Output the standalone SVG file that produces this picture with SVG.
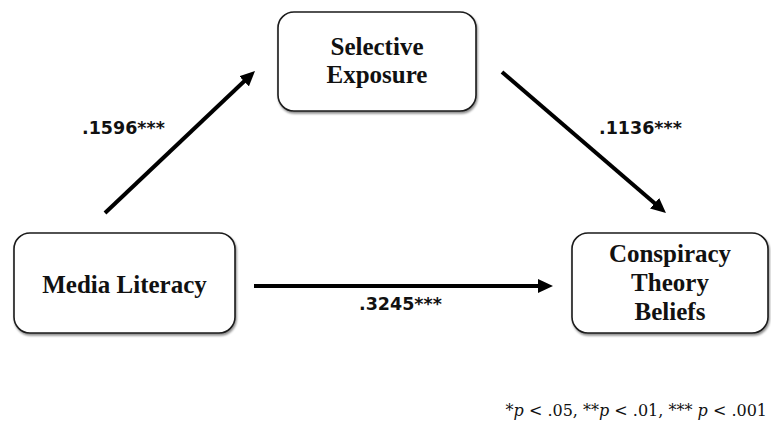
<svg xmlns="http://www.w3.org/2000/svg" width="771" height="426" viewBox="0 0 771 426">
<style>
.box{fill:#fff;stroke:#1a1a1a;stroke-width:1.6;filter:url(#sh)}
.lbl{font-family:"Liberation Serif","Times New Roman",serif;font-weight:bold;font-size:25px;fill:#111;text-anchor:middle}
.coef{font-family:"DejaVu Sans",Arial,sans-serif;font-weight:bold;font-size:17.5px;fill:#111}
.conn{stroke:#000;stroke-width:4;fill:none;marker-end:url(#ah)}
.note{font-family:"DejaVu Serif","Liberation Serif",serif;font-size:16px;fill:#111;text-anchor:end}
</style>
<defs>
<filter id="sh" x="-10%" y="-10%" width="120%" height="125%">
<feDropShadow dx="1" dy="2" stdDeviation="1.2" flood-color="#000" flood-opacity="0.45"/>
</filter>
<marker id="ah" markerUnits="userSpaceOnUse" markerWidth="16" markerHeight="14" refX="7" refY="7" orient="auto">
<path d="M0,0 L15,7 L0,14 Z" fill="#000"/>
</marker>
</defs>
<rect width="771" height="426" fill="#fff"/>
<g id="connectors">
<line class="conn" x1="105" y1="213" x2="249.2" y2="76.5"/>
<line class="conn" x1="502" y1="72" x2="659.9" y2="207.8"/>
<line class="conn" x1="254" y1="286" x2="545" y2="286"/>
<text class="coef" x="82" y="134">.1596***</text>
<text class="coef" x="599" y="134">.1136***</text>
<text class="coef" x="359" y="310">.3245***</text>
</g>
<g id="selective-exposure">
<rect class="box" x="278" y="12" width="198" height="99" rx="16"/>
<text class="lbl" x="377" y="55">Selective</text>
<text class="lbl" x="377" y="83">Exposure</text>
</g>
<g id="media-literacy">
<rect class="box" x="14" y="233" width="221" height="100" rx="16"/>
<text class="lbl" x="124.5" y="293">Media Literacy</text>
</g>
<g id="conspiracy-theory-beliefs">
<rect class="box" x="572" y="233" width="196" height="100" rx="16"/>
<text class="lbl" x="670" y="262">Conspiracy</text>
<text class="lbl" x="670" y="291">Theory</text>
<text class="lbl" x="670" y="320">Beliefs</text>
</g>
<text class="note" x="767" y="416">*<tspan font-style="italic">p</tspan> &lt; .05, **<tspan font-style="italic">p</tspan> &lt; .01, *** <tspan font-style="italic">p</tspan> &lt; .001</text>
</svg>
